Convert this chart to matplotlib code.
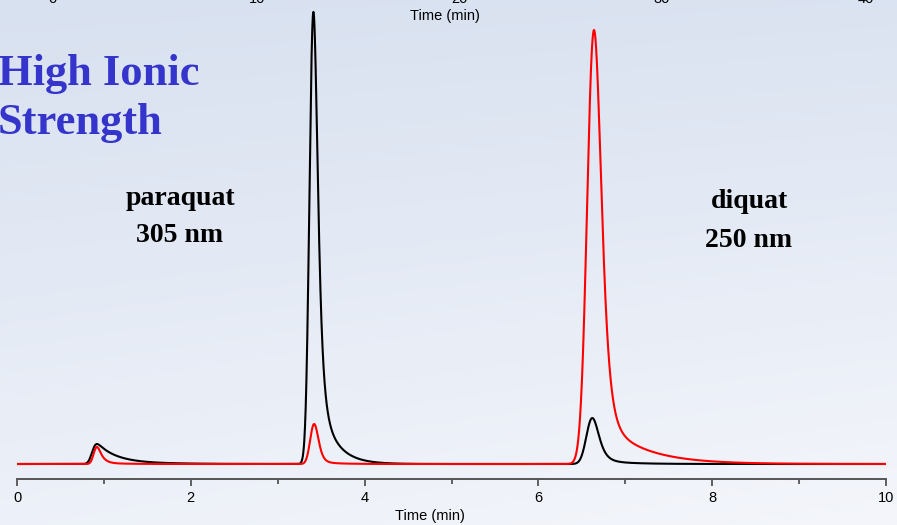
import numpy as np
import matplotlib
matplotlib.use("Agg")
import matplotlib.pyplot as plt

# ---------------- data ----------------
# Peak table: retention time (min), height (detector units above baseline),
# gaussian sigma (min), fast tail tau (min), slow tail fraction, slow tail tau (min)
black_rt     = [0.92, 3.41, 6.62]
black_height = [20, 452, 46]
black_sigma  = [0.035, 0.038, 0.058]
black_tau    = [0.20, 0.040, 0.060]
black_tailf  = [0.20, 0.16, 0.08]
black_tailt  = [0.45, 0.18, 0.30]

red_rt     = [0.92, 3.42, 6.64]
red_height = [17, 40, 434]
red_sigma  = [0.030, 0.040, 0.068]
red_tau    = [0.050, 0.035, 0.060]
red_tailf  = [0.06, 0.05, 0.10]
red_tailt  = [0.25, 0.20, 0.45]

x_ticks = [0, 2, 4, 6, 8, 10]
top_tick_labels = ["0", "10", "20", "30", "40"]

title_text = "High Ionic\nStrength"
label_left = "paraquat\n305 nm"
label_right = "diquat\n250 nm"
axis_label = "Time (min)"

# ---------------- peak model ----------------
t = np.linspace(0, 10, 5001)
dt = t[1] - t[0]


def emg_unit(mu, sigma, tau):
    g = np.exp(-0.5 * ((t - mu) / sigma) ** 2)
    s = np.arange(0, 12 * tau, dt)
    k = np.exp(-s / tau)
    k /= k.sum()
    c = np.convolve(g, k)[: len(t)]
    return c / c.max()


def peak(rt, h, sigma, tau, tf, tt):
    def shape(mu):
        y = (1 - tf) * emg_unit(mu, sigma, tau) + tf * emg_unit(mu, sigma, tt)
        return y / y.max()
    y = shape(rt)
    shift = t[np.argmax(y)] - rt
    y = shape(rt - shift)
    return h * y


def trace(rts, hs, sg, ta, tf, tt):
    y = np.zeros_like(t)
    for a in zip(rts, hs, sg, ta, tf, tt):
        y += peak(*a)
    return y


black = trace(black_rt, black_height, black_sigma, black_tau, black_tailf, black_tailt)
red = trace(red_rt, red_height, red_sigma, red_tau, red_tailf, red_tailt)

# ---------------- figure ----------------
W, H = 897, 525
fig = plt.figure(figsize=(W / 100, H / 100), dpi=100)

# background gradient
bg = fig.add_axes([0, 0, 1, 1], zorder=-10)
yy, xx = np.mgrid[0:1:200j, 0:1:200j]
f = np.clip(0.75 * yy + 0.25 * xx * (0.4 + 0.6 * yy), 0, 1)
top = np.array([216, 225, 240]) / 255
bot = np.array([244, 246, 251]) / 255
img = top[None, None, :] * (1 - f[..., None]) + bot[None, None, :] * f[..., None]
bg.imshow(img, aspect="auto", extent=[0, 1, 0, 1], origin="upper")
bg.axis("off")

ax = fig.add_axes([17 / W, (H - 479) / H, 869 / W, 479 / H])
ax.patch.set_alpha(0)
ax.plot(t, black, color="black", lw=1.5, zorder=2)
ax.plot(t, red, color="#ff0000", lw=1.5, zorder=3)
ax.set_xlim(0, 10)
ax.set_ylim(-15, 464)

for s in ["top", "right", "left"]:
    ax.spines[s].set_visible(False)
ax.spines["bottom"].set_color("#555555")
ax.spines["bottom"].set_linewidth(1.4)
ax.set_yticks([])
ax.set_xticks(x_ticks)
ax.set_xticks([1, 3, 5, 7, 9], minor=True)
ax.tick_params(axis="x", which="major", length=5, width=1.3, color="#555555",
               labelsize=10.5, pad=4)
ax.tick_params(axis="x", which="minor", length=3.5, width=1.3, color="#555555")
for lab in ax.get_xticklabels():
    lab.set_fontfamily("Liberation Sans")

fig.text(430 / W, 1 - 516 / H, axis_label, ha="center", va="center",
         fontsize=10.5, family="Liberation Sans")

# cut-off axis of the chart above
fig.text(445 / W, 1 - 16 / H, axis_label, ha="center", va="center",
         fontsize=10.5, family="Liberation Sans")
for lab, px in zip(top_tick_labels, [52, 257, 459, 662, 866]):
    fig.text(px / W, 1 - 3 / H, lab, ha="center", va="baseline",
             fontsize=10.5, family="Liberation Sans")

# annotations (va="baseline" aligns the last line's baseline)
fig.text(-2 / W, 1 - 134 / H, title_text, ha="left", va="baseline",
         fontsize=32, fontweight="bold", color="#3535cc",
         family="Liberation Serif", linespacing=1.3)
fig.text(180 / W, 1 - 242 / H, label_left, ha="center", va="baseline",
         fontsize=20, fontweight="bold", color="black",
         family="Liberation Serif", linespacing=1.65, multialignment="center")
fig.text(749 / W, 1 - 247 / H, label_right, ha="center", va="baseline",
         fontsize=20, fontweight="bold", color="black",
         family="Liberation Serif", linespacing=1.75, multialignment="center")

fig.savefig("out.png", dpi=100)
